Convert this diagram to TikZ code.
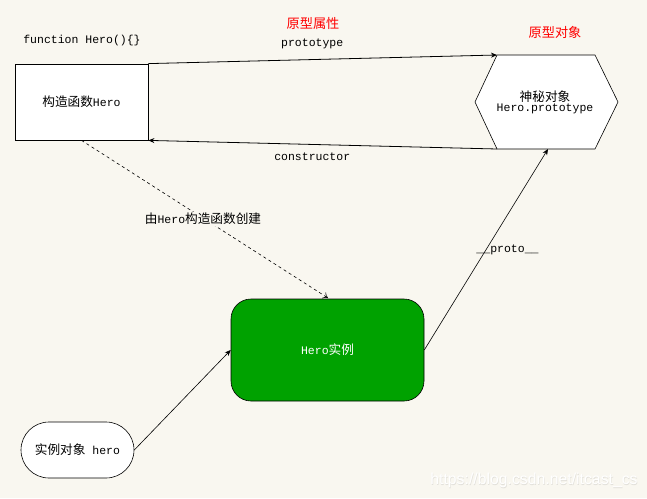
\documentclass[tikz,border=0pt]{standalone}
\usepackage{fontspec}
\setmainfont{Liberation Mono}
\newfontfamily\cjk[Scale=1.1]{Noto Sans CJK SC}
\newfontfamily\wmfont{Liberation Sans}
\usetikzlibrary{arrows.meta,shapes.geometric,shapes.misc}
\definecolor{bg}{RGB}{249,247,240}
\definecolor{heroGreen}{RGB}{0,162,0}
\definecolor{wmgray}{RGB}{226,224,218}
\begin{document}
\begin{tikzpicture}[x=1pt,y=-1pt,
  txt/.style={font=\fontsize{11.5}{13}\selectfont, inner sep=0pt},
  redtxt/.style={font=\fontsize{12}{14}\selectfont\cjk, text=red, inner sep=0pt},
  conn/.style={draw=black, line width=0.8pt, -{Stealth[length=6pt,width=5pt]}},
  thinconn/.style={draw=black, line width=0.6pt, -{Stealth[length=6pt,width=5pt]}},
  lbl/.style={font=\fontsize{11.5}{13}\selectfont, inner sep=0pt}]
\fill[bg] (0,0) rectangle (647,498);
\useasboundingbox (0,0) rectangle (647,498);

% nodes
\node[txt] (fn) at (82,41) {function Hero()\{\}};
\node[draw, fill=white, line width=0.8pt, minimum width=133pt, minimum height=76pt, txt] (ctor) at (81.5,102) {{\cjk 构造函数}Hero};
\node[redtxt] (pa) at (313,23) {原型属性};
\node[redtxt] (po) at (555,32) {原型对象};
\coordinate (hTL) at (497,55);
\coordinate (hTR) at (595,55);
\coordinate (hR) at (618,102);
\coordinate (hBR) at (595,149);
\coordinate (hBL) at (497,149);
\coordinate (hL) at (475,102);
\filldraw[fill=white, draw=black, line width=0.6pt] (hTL) -- (hTR) -- (hR) -- (hBR) -- (hBL) -- (hL) -- cycle;
\node[txt, align=center] (proto) at (545,102) {{\cjk 神秘对象}\\[-3pt]Hero.prototype};
\coordinate (hBot) at (548,149);

\node[draw, fill=heroGreen, line width=0.6pt, rounded corners=20pt, minimum width=193pt, minimum height=102pt, txt, text=white] (inst) at (327.5,350) {Hero{\cjk 实例}};
\node[draw, fill=white, line width=0.6pt, rounded rectangle, minimum width=113pt, minimum height=56pt, txt] (hero) at (77.5,450) {{\cjk 实例对象} hero};

% connectors
\draw[conn] (ctor.north east) -- node[lbl, above=10pt, pos=0.47] (lp) {prototype} (hTL);
\draw[conn] (hBL) -- node[lbl, below=8pt, pos=0.53] (lc) {constructor} (ctor.south east);
\coordinate (instTop) at (328,298);
\draw[draw=black, line width=0.6pt, dashed, -{To[length=5pt,width=7pt]}] (ctor.south) -- (instTop);
\node[lbl, fill=bg, inner sep=1pt] (lm) at (203,219) {{\cjk 由}Hero{\cjk 构造函数创建}};
\draw[thinconn] (inst.east) -- node[lbl, pos=0.5, right=-10pt] (lpr) {\_\_proto\_\_} (hBot);
\draw[thinconn] (hero.east) -- (inst.west);

% watermark
\node[font=\wmfont\fontsize{15.8}{18}\selectfont, text=wmgray, inner sep=0pt] (wm) at (534.5,481) {https://blog.csdn.net/itcast\_cs};
\node[font=\wmfont\fontsize{15.8}{18}\selectfont, text=white, inner sep=0pt] (wm2) at (534,480.5) {https://blog.csdn.net/itcast\_cs};
\end{tikzpicture}
\end{document}
